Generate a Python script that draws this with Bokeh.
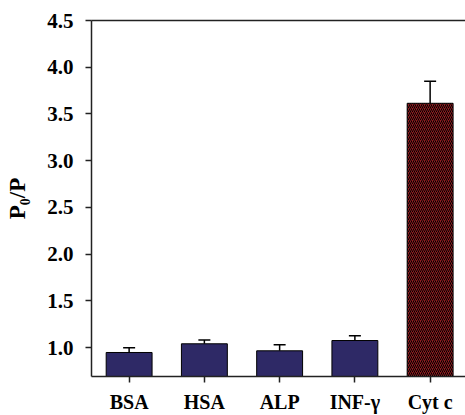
import math
from bokeh.plotting import figure
from bokeh.models import (Range1d, FixedTicker, PrintfTickFormatter, LinearAxis,
                          ColumnDataSource, Whisker, TeeHead)
from bokeh.embed import file_html
from bokeh.resources import INLINE

categories = ["BSA", "HSA", "ALP", "INF-γ", "Cyt c"]
values = [0.947, 1.04, 0.965, 1.075, 3.614]
errors = [0.05, 0.04, 0.065, 0.05, 0.235]
y_ticks = [1.0, 1.5, 2.0, 2.5, 3.0, 3.5, 4.0, 4.5]
y_label = "P₀/P"

FONT = "Liberation Serif"
BAR_BLUE = "#2E2966"
BAR_RED = "#8E1B1F"

xs = [i + 0.5 for i in range(len(categories))]
colors = [BAR_BLUE] * 4 + [BAR_RED]
hatches = [" "] * 4 + ["/"]
src = ColumnDataSource(dict(x=xs, top=values, upper=[v + e for v, e in zip(values, errors)],
                            color=colors, hatch=hatches, cat=categories))

p = figure(width=465, height=415, output_backend="svg", toolbar_location=None,
           x_range=Range1d(0, 4.97), y_range=Range1d(0.69, 4.5),
           min_border_left=91, min_border_right=0, min_border_top=20, min_border_bottom=37)
p.grid.visible = False
p.outline_line_color = None
p.background_fill_color = "white"

p.vbar(x="x", top="top", bottom=0.69, width=0.61, source=src, fill_color="color",
       line_color="black", line_width=1, hatch_pattern="hatch", hatch_color="black",
       hatch_scale=4, hatch_weight=1)

w = Whisker(base="x", lower="top", upper="upper", source=src, dimension="height",
            line_color="black", line_width=1.5, lower_head=None,
            upper_head=TeeHead(size=12, line_color="black", line_width=1.5))
p.add_layout(w)

# axes
p.xaxis.ticker = FixedTicker(ticks=xs)
p.xaxis.major_label_overrides = {x: c for x, c in zip(xs, categories)}
p.yaxis.ticker = FixedTicker(ticks=y_ticks)
p.yaxis.formatter = PrintfTickFormatter(format="%.1f")
for ax in (p.xaxis[0], p.yaxis[0]):
    ax.axis_line_width = 1.5
    ax.axis_line_color = "#222222"
    ax.major_tick_line_color = "#222222"
    ax.major_tick_line_width = 1.5
    ax.major_tick_in = 0
    ax.major_tick_out = 6
    ax.minor_tick_line_color = None
    ax.major_label_text_font = FONT
    ax.major_label_text_font_style = "bold"
    ax.major_label_text_color = "black"
p.xaxis.major_label_text_font_size = "20px"
p.yaxis.major_label_text_font_size = "21px"
p.xaxis.major_label_standoff = 8
p.yaxis.major_label_standoff = 12

p.yaxis.axis_label = y_label
p.yaxis.axis_label_text_font = FONT
p.yaxis.axis_label_text_font_style = "bold"
p.yaxis.axis_label_text_font_size = "23px"
p.yaxis.axis_label_text_color = "black"
p.yaxis.axis_label_standoff = 14

top_ax = LinearAxis(ticker=FixedTicker(ticks=[]), major_tick_out=0, major_tick_in=0,
                    minor_tick_out=0, minor_tick_in=0, major_label_standoff=0,
                    axis_line_width=1.5, axis_line_color="#222222",
                    major_tick_line_color=None, minor_tick_line_color=None)
p.add_layout(top_ax, "above")

open("out.html", "w").write(file_html(p, INLINE))
